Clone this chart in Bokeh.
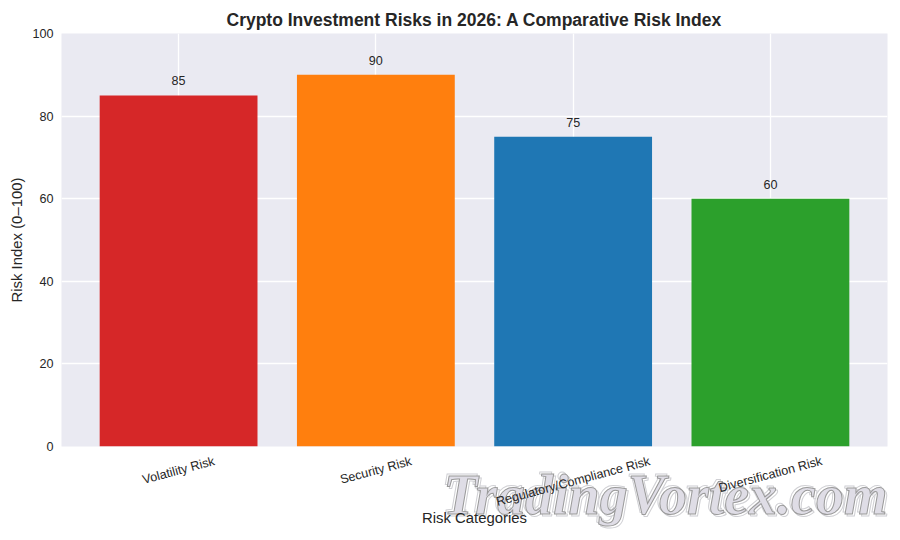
from math import radians
from bokeh.core.properties import value
from bokeh.embed import file_html
from bokeh.models import ColumnDataSource, FactorRange
from bokeh.plotting import figure
from bokeh.resources import INLINE

categories = ["Volatility Risk", "Security Risk", "Regulatory/Compliance Risk", "Diversification Risk"]
risk_index = [85, 90, 75, 60]
colors = ["#d62728", "#ff7f0e", "#1f77b4", "#2ca02c"]
y_ticks = [0, 20, 40, 60, 80, 100]

FONT = "Liberation Sans"
INK = "#262626"

# rotated labels hang from a common top edge, so longer ones sit lower
label_drop = [24, 24, 35, 28]

source = ColumnDataSource(data=dict(
    cat=categories,
    val=risk_index,
    color=colors,
    val_text=[str(v) for v in risk_index],
    base=[0] * len(categories),
    drop=label_drop,
))

p = figure(
    width=892, height=532,
    x_range=FactorRange(factors=categories, range_padding=0.0935, range_padding_units="absolute"),
    y_range=(0, 100),
    output_backend="svg", toolbar_location=None,
    background_fill_color="#EAEAF2", border_fill_color="white",
    min_border_left=61, min_border_right=5, min_border_top=33, min_border_bottom=86,
)
p.outline_line_color = None

p.title.text = "Crypto Investment Risks in 2026: A Comparative Risk Index"
p.title.align = "center"
p.title.text_font = FONT
p.title.text_font_size = "17.5px"
p.title.text_font_style = "bold"
p.title.text_color = INK
p.title.standoff = 7

p.xgrid.grid_line_color = "white"
p.ygrid.grid_line_color = "white"
p.xgrid.grid_line_width = 1.3
p.ygrid.grid_line_width = 1.3
p.ygrid.ticker = y_ticks

for ax in (p.xaxis[0], p.yaxis[0]):
    ax.axis_line_color = None
    ax.major_tick_line_color = None
    ax.minor_tick_line_color = None
    ax.major_tick_out = 0
    ax.major_tick_in = 0
    ax.axis_label_text_font = FONT
    ax.axis_label_text_font_size = "14.9px"
    ax.axis_label_text_font_style = "normal"
    ax.axis_label_text_color = INK
    ax.major_label_text_font = FONT
    ax.major_label_text_font_size = "12.6px"
    ax.major_label_text_color = INK

p.yaxis[0].ticker = y_ticks
p.yaxis[0].axis_label = "Risk Index (0\u2013100)"
p.yaxis[0].major_label_standoff = 8
p.yaxis[0].axis_label_standoff = 4

p.xaxis[0].axis_label = "Risk Categories"
p.xaxis[0].axis_label_standoff = 63
p.xaxis[0].major_label_text_color = None

p.vbar(x="cat", top="val", width=0.8, color="color", line_color=None, source=source)

# watermark sits over the bottom right corner, outside the frame
# two pale copies behind it give the double outline
for dx, dy, fill, edge in ((-2, -2, "white", "#d0d0d4"), (2, 2, "white", "#d0d0d4"), (0, 0, "#dfdde6", "#9a9a9a")):
    p.text(
        x=[categories[2]], y=[0], text=["TradingVortex.com"],
        x_offset=-130 + dx, y_offset=48 + dy,
        text_font=value("Liberation Serif"), text_font_size="56px",
        text_font_style="bold italic", text_baseline="alphabetic",
        text_color=fill, outline_color=edge, level="guide",
    )

p.text(
    x="cat", y="val", text="val_text", source=source,
    y_offset=-10, text_align="center", text_baseline="bottom",
    text_font=value(FONT), text_font_size="12.6px", text_color=INK,
    level="annotation",
)
p.text(
    x="cat", y="base", text="cat", source=source,
    y_offset="drop", angle=radians(15), text_align="center", text_baseline="middle",
    text_font=value(FONT), text_font_size="12.6px", text_color=INK,
    level="annotation",
)

open("out.html", "w").write(file_html(p, INLINE))
